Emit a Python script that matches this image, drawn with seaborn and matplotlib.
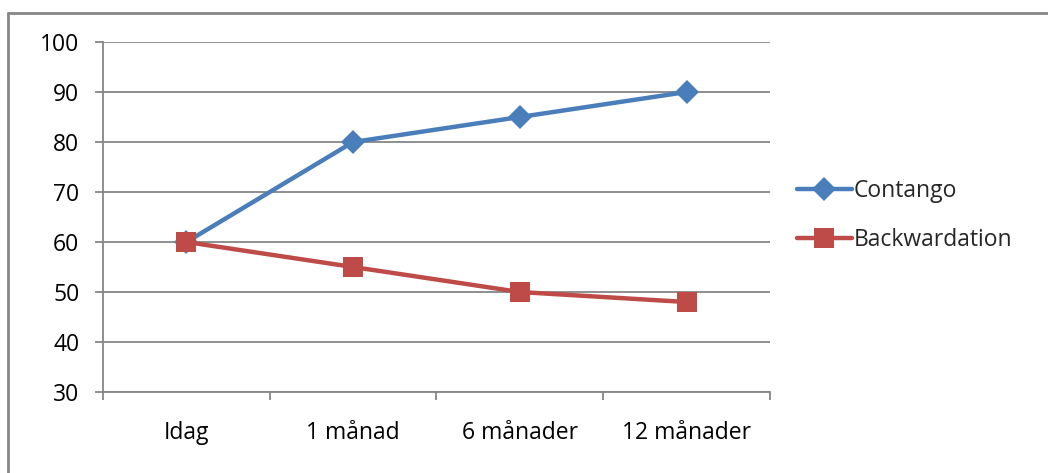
import matplotlib
matplotlib.use("Agg")
import matplotlib.pyplot as plt
from matplotlib.lines import Line2D
import seaborn as sns
import pandas as pd

periods = ["Idag", "1 månad", "6 månader", "12 månader"]
contango = [60, 80, 85, 90]
backwardation = [60, 55, 50, 48]
y_ticks = [30, 40, 50, 60, 70, 80, 90, 100]

sns.set_theme(style="white")
plt.rcParams["font.family"] = ["Open Sans", "DejaVu Sans"]

df = pd.DataFrame({
    "period": periods * 2,
    "value": contango + backwardation,
    "series": ["Contango"] * 4 + ["Backwardation"] * 4,
})

grey = "#868686"
blue = "#4A7EBB"
red = "#BE4B48"
fs = 16.5

fig = plt.figure(figsize=(10.48, 4.73), dpi=100)
ax = fig.add_axes([0.0983, 0.1712, 0.6364, 0.74])

sns.lineplot(data=df[df.series == "Contango"], x="period", y="value",
             color=blue, lw=3.2, marker="D", markersize=12, markeredgewidth=0,
             label="Contango", ax=ax, sort=False)
sns.lineplot(data=df[df.series == "Backwardation"], x="period", y="value",
             color=red, lw=3.2, marker="s", markersize=14, markeredgewidth=0,
             label="Backwardation", ax=ax, sort=False)

ax.set_xlim(-0.5, 3.5)
ax.set_ylim(30, 100)
ax.set_yticks(y_ticks)
ax.set_xticks(range(len(periods)))
ax.set_xticklabels(periods)
ax.set_xticks([i - 0.5 for i in range(len(periods) + 1)], minor=True)
ax.set_xlabel("")
ax.set_ylabel("")

ax.grid(axis="y", color=grey, lw=1.3)
ax.set_axisbelow(True)
for side in ["top", "right"]:
    ax.spines[side].set_visible(False)
for side in ["left", "bottom"]:
    ax.spines[side].set_color(grey)
    ax.spines[side].set_linewidth(1.3)

ax.tick_params(axis="y", which="major", length=6, width=1.3, color=grey,
               labelsize=fs, pad=11, left=True, labelcolor="black")
ax.tick_params(axis="x", which="major", length=0, labelsize=fs, pad=21,
               labelcolor="black")
ax.tick_params(axis="x", which="minor", length=6, width=1.3, color=grey,
               bottom=True)

leg = ax.legend(loc="center left", bbox_to_anchor=(1.009, 0.505), frameon=False,
                fontsize=fs, handlelength=2.4, handletextpad=0.1,
                labelspacing=1.1)

# outer chart frame (top and left edges)
fig.add_artist(Line2D([0.0081, 1.0], [0.9725, 0.9725], color=grey, lw=2,
                      transform=fig.transFigure))
fig.add_artist(Line2D([0.0081, 0.0081], [0.0, 0.9725], color=grey, lw=2,
                      transform=fig.transFigure))

fig.savefig("out.png", dpi=100, facecolor="white")
